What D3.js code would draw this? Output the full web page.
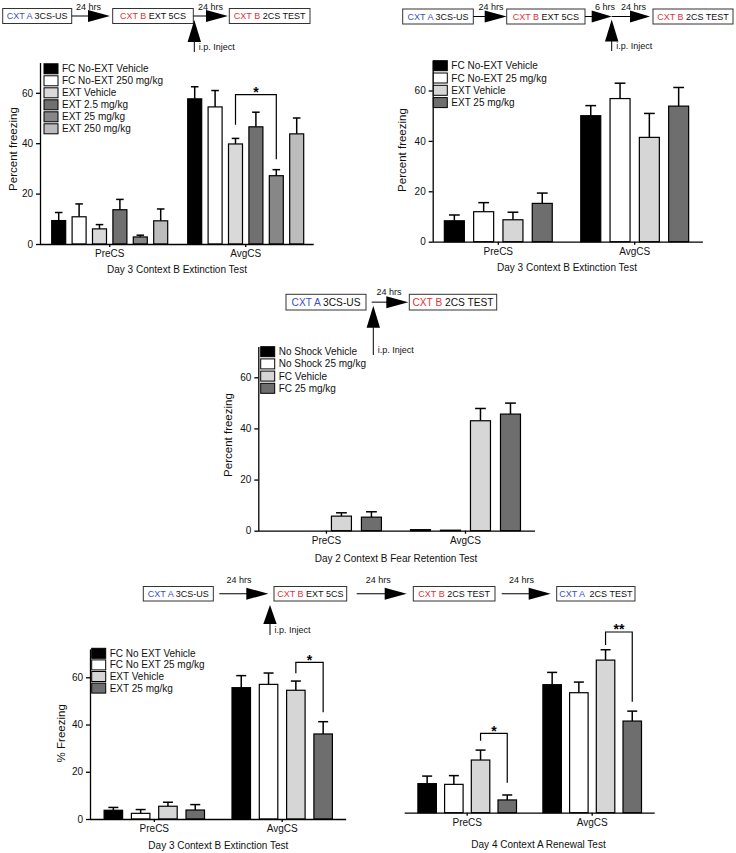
<!DOCTYPE html>
<html><head><meta charset="utf-8">
<script src="https://cdn.jsdelivr.net/npm/d3@7"></script>
<style>
body{margin:0;background:#fff;}
svg{display:block;}
</style></head><body>
<svg id="c" width="736" height="853"></svg>
<script>
// ---------------- DATA ----------------
const groups = ["PreCS", "AvgCS"];
const yTicks = [0, 20, 40, 60];
const yMax = 72;

const seriesA = ["FC No-EXT Vehicle", "FC No-EXT 250 mg/kg", "EXT Vehicle", "EXT 2.5 mg/kg", "EXT 25 mg/kg", "EXT 250 mg/kg"];
const meanA = [[9.3, 10.8, 6.0, 13.6, 2.8, 9.2], [57.6, 54.4, 39.7, 46.5, 27.1, 43.7]];
const semA  = [[3.2, 5.1, 1.7, 4.1, 0.7, 4.7], [4.8, 6.5, 2.2, 5.8, 2.4, 6.3]];
const sigA  = [{g: 1, a: 2, b: 4, top: 59.3, ya: 47.3, yb: 33.6, label: "*"}];

const seriesB = ["FC No-EXT Vehicle", "FC No-EXT 25 mg/kg", "EXT Vehicle", "EXT 25 mg/kg"];
const meanB = [[8.3, 11.9, 8.7, 15.2], [50.0, 56.8, 41.4, 53.8]];
const semB  = [[2.3, 3.6, 3.0, 4.1], [4.0, 6.1, 9.5, 7.4]];

const seriesC = ["No Shock Vehicle", "No Shock 25 mg/kg", "FC Vehicle", "FC 25 mg/kg"];
const meanC = [[0, 0, 5.7, 5.3], [0.4, 0.2, 43.0, 45.6]];
const semC  = [[0, 0, 1.3, 2.1], [0, 0, 4.8, 4.3]];

const seriesD = ["FC No EXT Vehicle", "FC No EXT 25 mg/kg", "EXT Vehicle", "EXT 25 mg/kg"];
const meanD = [[3.7, 2.4, 5.4, 3.8], [55.6, 57.0, 54.5, 36.0]];
const semD  = [[1.2, 1.6, 1.7, 2.3], [5.1, 4.8, 3.9, 5.2]];
const sigD  = [{g: 1, a: 2, b: 3, top: 66.3, ya: 61.7, yb: 45.2, label: "*"}];

const meanE = [[12.3, 12.0, 22.3, 5.4], [54.2, 50.8, 64.6, 38.8]];
const semE  = [[3.2, 3.7, 4.2, 2.1], [5.2, 4.5, 4.4, 4.2]];
const sigE  = [{g: 0, a: 2, b: 3, top: 33.6, ya: 30.5, yb: 12.7, label: "*"},
               {g: 1, a: 2, b: 3, top: 76.5, ya: 71.0, yb: 47.0, label: "**"}];

const titles = ["Day 3 Context B Extinction Test", "Day 3 Context B Extinction Test",
                "Day 2 Context B Fear Retention Test", "Day 3 Context B Extinction Test",
                "Day 4 Context A Renewal Test"];
const yLabels = ["Percent freezing", "Percent freezing", "Percent freezing", "% Freezing", null];

// ---------------- STYLE / LAYOUT ----------------
const FONT = '"Liberation Sans", Arial, Helvetica, sans-serif';
const colorsA = ["#000000", "#ffffff", "#d9d9d9", "#707070", "#878787", "#bcbcbc"];
const colors4 = ["#000000", "#ffffff", "#d6d6d6", "#6e6e6e"];
const BLUE = "#3a4fc4", RED = "#e0343c", K = "#111";

const svg = d3.select("#c").attr("font-family", FONT);

const panels = [
  {series: seriesA, mean: meanA, sem: semA, sig: sigA, colors: colorsA, title: titles[0], yLabel: yLabels[0],
   axisX: 40, x0: 41.7, x1: 313.7, y0: 244, ppu: 2.52, barW: 14, barStep: 20.4,
   yLabelX: 12.7, yLabelY: 149, titleX: 177, titleY: 273, legX: 44, legY: 68.8, legStep: 12, yAxis: true},
  {series: seriesB, mean: meanB, sem: semB, sig: [], colors: colors4, title: titles[1], yLabel: yLabels[1],
   axisX: 432.7, x0: 430.1, x1: 702.9, y0: 241.7, ppu: 2.52, barW: 20, barStep: 29.3,
   yLabelX: 401.7, yLabelY: 150, titleX: 567, titleY: 270.5, legX: 433.3, legY: 65.7, legStep: 12.3, yAxis: true},
  {series: seriesC, mean: meanC, sem: semC, sig: [], colors: colors4, title: titles[2], yLabel: yLabels[2],
   axisX: 258.3, x0: 256.9, x1: 535, y0: 530.7, ppu: 2.557, barW: 20, barStep: 30,
   yLabelX: 228.3, yLabelY: 435, titleX: 396, titleY: 562, legX: 260.7, legY: 351.7, legStep: 12.2, yAxis: true},
  {series: seriesD, mean: meanD, sem: semD, sig: sigD, colors: colors4, title: titles[3], yLabel: yLabels[3],
   axisX: 90, x0: 90.35, x1: 346.15, y0: 819, ppu: 2.362, barW: 18.5, barStep: 27.3,
   yLabelX: 61, yLabelY: 733.3, titleX: 218.3, titleY: 848.5, legX: 91.7, legY: 653.3, legStep: 11.6, yAxis: true},
  {series: seriesD, mean: meanE, sem: semE, sig: sigE, colors: colors4, title: titles[4], yLabel: yLabels[4],
   axisX: 404.7, x0: 404.7, x1: 654.7, y0: 812.7, ppu: 2.362, barW: 18.5, barStep: 26.7,
   titleX: 538.5, titleY: 848, legX: null, yAxis: false}
];

function drawPanel(p) {
  const g = svg.append("g");
  const x = d3.scaleBand().domain(groups).range([p.x0, p.x1]);
  const y = d3.scaleLinear().domain([0, yMax]).range([p.y0, p.y0 - yMax * p.ppu]);
  const n = p.series.length;
  const cx = (gi, i) => x(groups[gi]) + x.bandwidth() / 2 + (i - (n - 1) / 2) * p.barStep;

  const flat = [];
  groups.forEach((gr, gi) => p.mean[gi].forEach((v, i) => flat.push({gi, i, v, e: p.sem[gi][i]})));

  // error bars
  const eb = g.append("g").attr("stroke", "#000").attr("stroke-width", 1.5).attr("fill", "none");
  flat.filter(d => d.e > 0).forEach(d => {
    const c = cx(d.gi, d.i);
    eb.append("line").attr("x1", c).attr("x2", c).attr("y1", y(d.v)).attr("y2", y(d.v + d.e));
    eb.append("line").attr("x1", c - p.barW * 0.27).attr("x2", c + p.barW * 0.27)
      .attr("y1", y(d.v + d.e)).attr("y2", y(d.v + d.e));
  });

  // bars
  g.append("g").selectAll("rect").data(flat).join("rect")
    .attr("x", d => cx(d.gi, d.i) - p.barW / 2)
    .attr("width", p.barW)
    .attr("y", d => y(d.v))
    .attr("height", d => y(0) - y(d.v))
    .attr("fill", d => p.colors[d.i])
    .attr("stroke", "#000").attr("stroke-width", 1.2);

  // x axis
  const xa = g.append("g").attr("transform", `translate(0,${p.y0})`)
    .call(d3.axisBottom(x).tickSize(3).tickSizeOuter(0));
  xa.select(".domain").attr("d", `M${p.axisX},0.5H${p.x1}`);
  xa.attr("font-family", FONT).attr("font-size", 10);
  xa.selectAll("path,line").attr("stroke-width", 1.3).attr("stroke", "#000");
  xa.selectAll("text").attr("fill", "#111");

  // y axis
  if (p.yAxis) {
    const ya = g.append("g").attr("transform", `translate(${p.axisX},0)`)
      .call(d3.axisLeft(y).tickValues(yTicks).tickSize(4).tickSizeOuter(0));
    ya.attr("font-family", FONT).attr("font-size", 10);
    ya.selectAll("path,line").attr("stroke-width", 1.3).attr("stroke", "#000");
    ya.selectAll("text").attr("fill", "#111");
  }

  // y label
  if (p.yLabel) {
    g.append("text").attr("transform", `translate(${p.yLabelX},${p.yLabelY}) rotate(-90)`)
      .attr("text-anchor", "middle").attr("dy", "0.35em").attr("font-size", 11.5).attr("fill", "#111")
      .text(p.yLabel);
  }
  // title
  g.append("text").attr("x", p.titleX).attr("y", p.titleY).attr("text-anchor", "middle")
    .attr("font-size", 10).attr("fill", "#111").text(p.title);

  // legend
  if (p.legX != null) {
    const lg = g.append("g");
    p.series.forEach((s, i) => {
      const yy = p.legY + i * p.legStep;
      lg.append("rect").attr("x", p.legX).attr("y", yy - 5).attr("width", 14).attr("height", 10)
        .attr("fill", p.colors[i]).attr("stroke", "#000").attr("stroke-width", 1);
      lg.append("text").attr("x", p.legX + 18).attr("y", yy).attr("dy", "0.35em")
        .attr("font-size", 10).attr("fill", "#111").text(s);
    });
  }

  // significance brackets
  p.sig.forEach(s => {
    const xa_ = cx(s.g, s.a), xb_ = cx(s.g, s.b);
    g.append("path").attr("d", `M${xa_},${y(s.ya)}V${y(s.top)}H${xb_}V${y(s.yb)}`)
      .attr("fill", "none").attr("stroke", "#000").attr("stroke-width", 1.2);
    g.append("text").attr("x", (xa_ + xb_) / 2).attr("y", y(s.top) - 5.7 + 8)
      .attr("text-anchor", "middle").attr("font-size", 14).attr("font-weight", "bold").text(s.label);
  });
}
panels.forEach(drawPanel);

// ---------------- PROTOCOL DIAGRAMS ----------------
const diagrams = [
  {fs: 9, yT: 8.5, yB: 23.5,
   boxes: [[2.7, 71.7, [["CXT A", BLUE], [" 3CS-US", K]]], [112.7, 193.3, [["CXT B", RED], [" EXT 5CS", K]]], [229.3, 310, [["CXT B", RED], [" 2CS TEST", K]]]],
   arrows: [[71.7, 110, 22], [193.3, 228, 22]], labels: [["24 hrs", 88.5, 10], ["24 hrs", 210.5, 10]],
   inject: [194.3, 52, 20, 22]},
  {fs: 9, yT: 9, yB: 24,
   boxes: [[402.7, 473.3, [["CXT A", BLUE], [" 3CS-US", K]]], [506.7, 585, [["CXT B", RED], [" EXT 5CS", K]]], [653, 733, [["CXT B", RED], [" 2CS TEST", K]]]],
   arrows: [[473.3, 506.7, 22], [585, 611.7, 20], [611.7, 650, 20]], labels: [["24 hrs", 491, 9.5], ["6 hrs", 605, 9.5], ["24 hrs", 633.5, 9.5]],
   inject: [611.7, 51, 19.5, 22]},
  {fs: 10.2, yT: 294.3, yB: 310,
   boxes: [[286, 366, [["CXT A", BLUE], [" 3CS-US", K]]], [409.3, 496.7, [["CXT B", RED], [" 2CS TEST", K]]]],
   arrows: [[371.7, 408.3, 22]], labels: [["24 hrs", 389, 294.5]],
   inject: [373.3, 355, 305.7, 22]},
  {fs: 9, yT: 586.5, yB: 601,
   boxes: [[143.3, 213.3, [["CXT A", BLUE], [" 3CS-US", K]]], [274, 346.7, [["CXT B", RED], [" EXT 5CS", K]]], [413.3, 495, [["CXT B", RED], [" 2CS TEST", K]]], [556.7, 635, [["CXT A", BLUE], ["  2CS TEST", K]]]],
   arrows: [[219.3, 268.3, 22], [356.7, 406.7, 22], [501.7, 550.7, 22]], labels: [["24 hrs", 239, 582.5], ["24 hrs", 378.3, 582.5], ["24 hrs", 521.5, 582.5]],
   inject: [270, 635, 605, 19]}
];

function drawDiagram(d) {
  const g = svg.append("g");
  const yc = (d.yT + d.yB) / 2;
  d.boxes.forEach(([x1, x2, parts]) => {
    g.append("rect").attr("x", x1).attr("y", d.yT).attr("width", x2 - x1).attr("height", d.yB - d.yT)
      .attr("fill", "#fff").attr("stroke", "#333").attr("stroke-width", 1);
    const t = g.append("text").attr("x", (x1 + x2) / 2).attr("y", yc).attr("dy", "0.36em")
      .attr("text-anchor", "middle").attr("font-size", d.fs).attr("xml:space", "preserve");
    parts.forEach(([s, c]) => t.append("tspan").attr("fill", c).text(s));
  });
  d.arrows.forEach(([xs, xe, hl]) => {
    g.append("line").attr("x1", xs).attr("x2", xe - hl + 1).attr("y1", yc).attr("y2", yc)
      .attr("stroke", "#000").attr("stroke-width", 1);
    g.append("path").attr("d", `M${xe},${yc}L${xe - hl},${yc - 6}L${xe - hl},${yc + 6}Z`).attr("fill", "#000");
  });
  d.labels.forEach(([s, x, y]) => {
    g.append("text").attr("x", x).attr("y", y).attr("text-anchor", "middle").attr("font-size", 9)
      .attr("fill", "#111").text(s);
  });
  const [ix, iyB, iyT, hl] = d.inject;
  g.append("line").attr("x1", ix).attr("x2", ix).attr("y1", iyB).attr("y2", iyT + hl - 1)
    .attr("stroke", "#000").attr("stroke-width", 1);
  g.append("path").attr("d", `M${ix},${iyT}L${ix - 6.7},${iyT + hl}L${ix + 6.7},${iyT + hl}Z`).attr("fill", "#000");
  g.append("text").attr("x", ix + 4.5).attr("y", iyB - 2).attr("font-size", 9).attr("fill", "#111").text("i.p. Inject");
}
diagrams.forEach(drawDiagram);
</script>
</body></html>
